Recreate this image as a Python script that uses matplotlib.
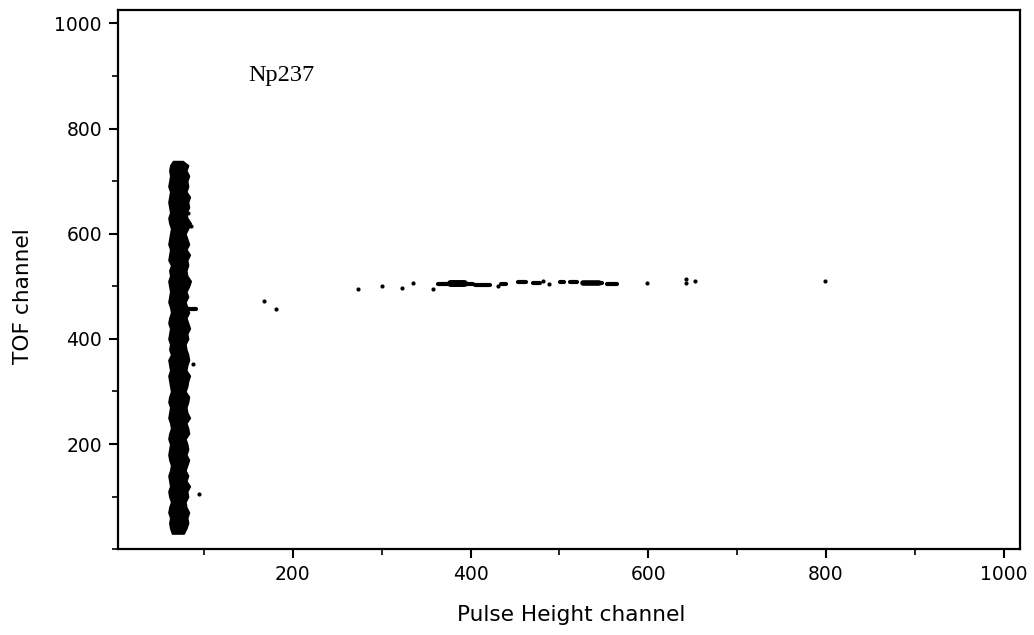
import matplotlib
matplotlib.use("Agg")
import matplotlib.pyplot as plt
from matplotlib.ticker import MultipleLocator

# ---- data ----
# dense vertical band (edges of the black stripe) near pulse height ~70
band_y = [30, 40, 50, 60, 70, 80, 90, 100, 110, 120, 130, 140, 150, 160, 170, 180,
          190, 200, 210, 220, 230, 240, 250, 260, 270, 280, 290, 300, 310, 320, 330, 340,
          350, 360, 370, 380, 390, 400, 410, 420, 430, 440, 450, 460, 470, 480, 490, 500,
          510, 520, 530, 540, 550, 560, 570, 580, 590, 600, 610, 620, 630, 640, 650, 660,
          670, 680, 690, 700, 710, 720, 730, 738]
band_left = [64, 62, 61, 62, 60, 61, 63, 61, 60, 62, 61, 60, 62, 63, 61, 60,
             61, 62, 60, 61, 63, 62, 60, 61, 62, 60, 61, 63, 62, 61, 60, 62,
             61, 60, 63, 61, 62, 60, 61, 62, 60, 61, 63, 62, 60, 61, 62, 61,
             60, 62, 61, 63, 60, 61, 62, 60, 61, 62, 63, 61, 60, 62, 61, 60,
             61, 62, 60, 61, 62, 61, 62, 65]
band_right = [77, 80, 82, 81, 83, 80, 79, 82, 81, 84, 80, 82, 79, 81, 83, 80,
              82, 81, 79, 83, 82, 80, 84, 81, 80, 82, 83, 79, 81, 82, 84, 80,
              81, 83, 82, 80, 79, 82, 81, 84, 82, 80, 83, 81, 79, 82, 80, 83,
              85, 81, 80, 82, 81, 84, 80, 83, 81, 79, 82, 85, 81, 80, 83, 82,
              84, 80, 82, 81, 83, 80, 82, 76]

# fission-fragment events: short dashes along TOF ~505
seg_x0 = [363, 377, 395, 405, 434, 453, 470, 501, 512, 527, 554, 78]
seg_x1 = [375, 393, 403, 422, 440, 462, 478, 505, 520, 548, 565, 91]
seg_y = [505, 506, 505, 503, 505, 508, 507, 508, 508, 507, 505, 456]

# isolated dots
dot_x = [273, 300, 323, 335, 358, 431, 482, 488, 599, 643, 643, 653, 799,
         167, 181, 88, 94, 85, 82]
dot_y = [495, 501, 497, 507, 495, 501, 510, 505, 507, 514, 506, 510, 510,
         472, 457, 352, 105, 615, 640]

x_ticks = [200, 400, 600, 800, 1000]
y_ticks = [200, 400, 600, 800, 1000]
label_text = "Np237"

plt.rcParams['font.family'] = ['DejaVu Sans']

fig = plt.figure(figsize=(10.34, 6.35), dpi=100)
ax = fig.add_axes([0.114, 0.135, 0.872, 0.849])

ax.fill_betweenx(band_y, band_left, band_right, color='black', linewidth=1.2,
                 edgecolor='black')
for x0, x1, yy in zip(seg_x0, seg_x1, seg_y):
    ax.plot([x0, x1], [yy, yy], color='black', lw=3, solid_capstyle='round')
ax.plot([377, 393], [506, 506], color='black', lw=5, solid_capstyle='round')
ax.plot([527, 545], [507, 507], color='black', lw=4, solid_capstyle='round')
ax.scatter(dot_x, dot_y, s=9, color='black', linewidths=0)

ax.text(150, 900, label_text, fontsize=17.5, family=['Liberation Serif', 'DejaVu Serif'],
        va='center', ha='left')

ax.set_xlim(3, 1018)
ax.set_ylim(0, 1025)
ax.set_xticks(x_ticks)
ax.set_yticks(y_ticks)
ax.xaxis.set_minor_locator(MultipleLocator(100))
ax.yaxis.set_minor_locator(MultipleLocator(100))
ax.tick_params(which='major', direction='out', length=6.5, width=1.5, labelsize=13.5, pad=5)
ax.tick_params(which='minor', direction='out', length=4, width=1.2)
for s in ax.spines.values():
    s.set_linewidth(1.6)

ax.set_xlabel("Pulse Height channel", fontsize=15.6)
ax.set_ylabel("TOF channel", fontsize=15.6)
ax.xaxis.set_label_coords(0.503, -0.104)
ax.yaxis.set_label_coords(-0.094, 0.47)

fig.savefig("out.png", dpi=100)
